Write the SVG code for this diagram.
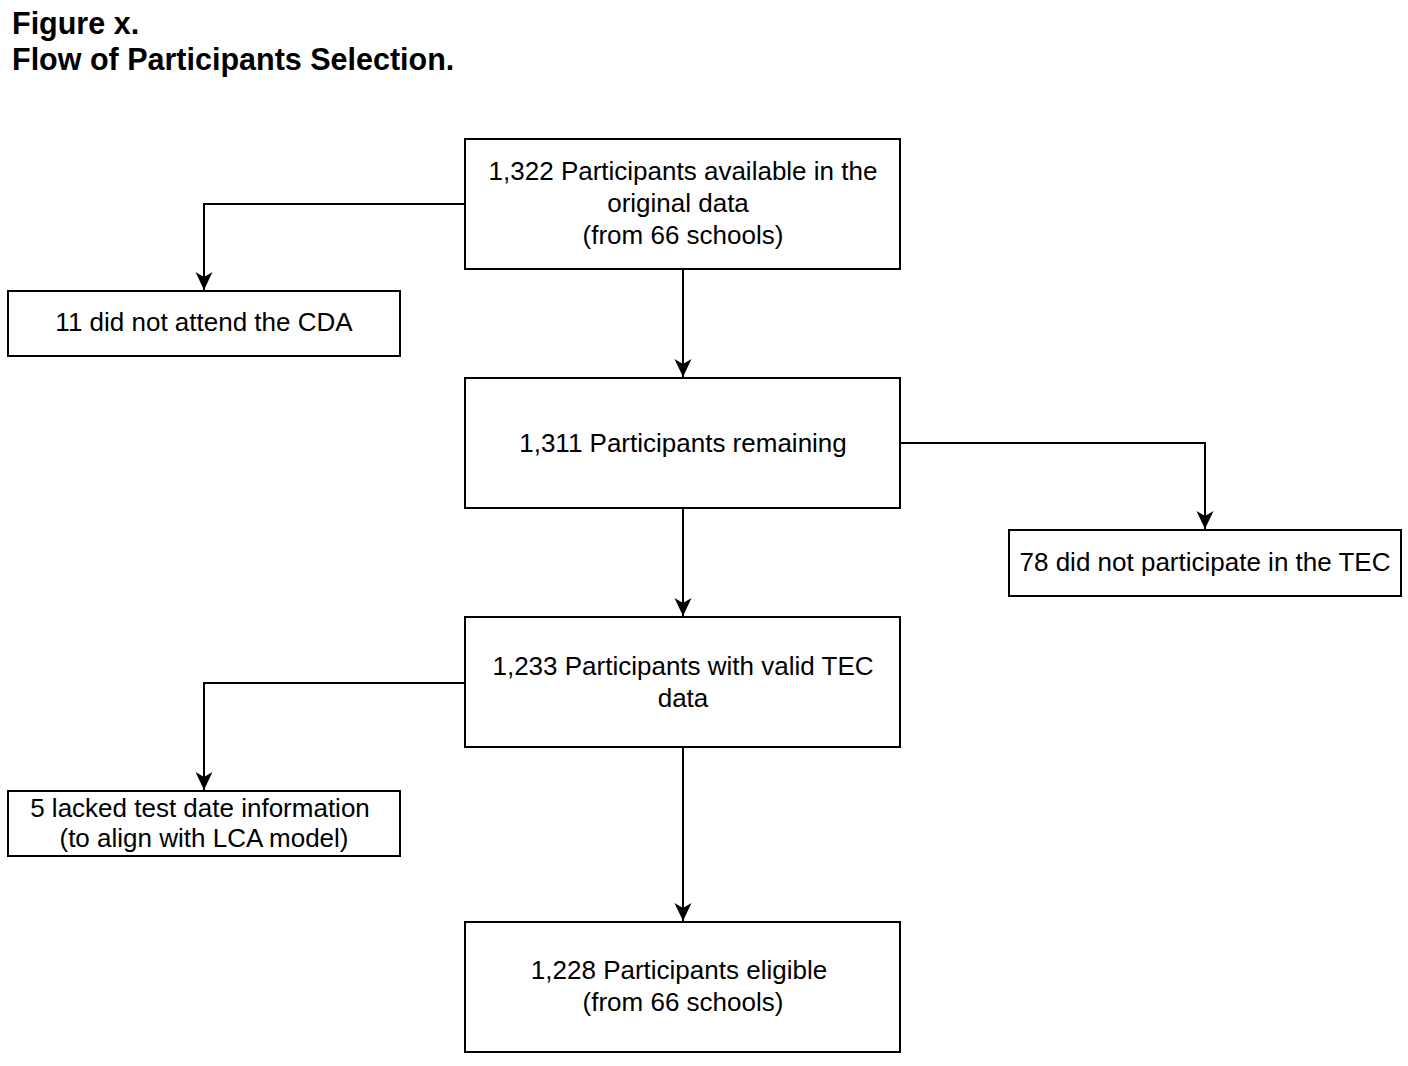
<svg xmlns="http://www.w3.org/2000/svg" width="1408" height="1066" viewBox="0 0 1408 1066">
<style>
.box{fill:#fff;stroke:#000;stroke-width:2}
.t{font-family:"Liberation Sans",Arial,sans-serif;font-size:26px;fill:#000;text-anchor:middle}
.title{font-family:"Liberation Sans",Arial,sans-serif;font-size:30.5px;font-weight:bold;fill:#000}
.c{fill:none;stroke:#000;stroke-width:2}
</style>
<defs>
<marker id="arr" markerUnits="userSpaceOnUse" markerWidth="20" markerHeight="20" viewBox="0 0 20 20" refX="18" refY="10" orient="auto">
<path d="M0,1.5 L18,10 L0,18.5 L5,10 Z" fill="#000"/>
</marker>
</defs>
<rect width="1408" height="1066" fill="#fff"/>
<text class="title" x="12" y="34">Figure x.</text>
<text class="title" x="12" y="70">Flow of Participants Selection.</text>
<g id="connectors">
<path class="c" d="M683,269 V377" marker-end="url(#arr)"/>
<path class="c" d="M683,508 V616" marker-end="url(#arr)"/>
<path class="c" d="M683,747 V921" marker-end="url(#arr)"/>
<path class="c" d="M465,204 H204 V290" marker-end="url(#arr)"/>
<path class="c" d="M900,443 H1205 V529" marker-end="url(#arr)"/>
<path class="c" d="M465,683 H204 V790" marker-end="url(#arr)"/>
</g>
<g id="n1"><rect class="box" x="465" y="139" width="435" height="130"/>
<text class="t" x="683" y="180">1,322 Participants available in the</text>
<text class="t" x="678" y="212">original data</text>
<text class="t" x="683" y="244">(from 66 schools)</text></g>
<g id="n2"><rect class="box" x="8" y="291" width="392" height="65"/>
<text class="t" x="204" y="331">11 did not attend the CDA</text></g>
<g id="n3"><rect class="box" x="465" y="378" width="435" height="130"/>
<text class="t" x="683" y="452">1,311 Participants remaining</text></g>
<g id="n4"><rect class="box" x="1009" y="530" width="392" height="66"/>
<text class="t" x="1205" y="571">78 did not participate in the TEC</text></g>
<g id="n5"><rect class="box" x="465" y="617" width="435" height="130"/>
<text class="t" x="683" y="675">1,233 Participants with valid TEC</text>
<text class="t" x="683" y="707">data</text></g>
<g id="n6"><rect class="box" x="8" y="791" width="392" height="65"/>
<text class="t" x="200" y="817">5 lacked test date information</text>
<text class="t" x="204" y="847">(to align with LCA model)</text></g>
<g id="n7"><rect class="box" x="465" y="922" width="435" height="130"/>
<text class="t" x="679" y="979">1,228 Participants eligible</text>
<text class="t" x="683" y="1011">(from 66 schools)</text></g>
</svg>
